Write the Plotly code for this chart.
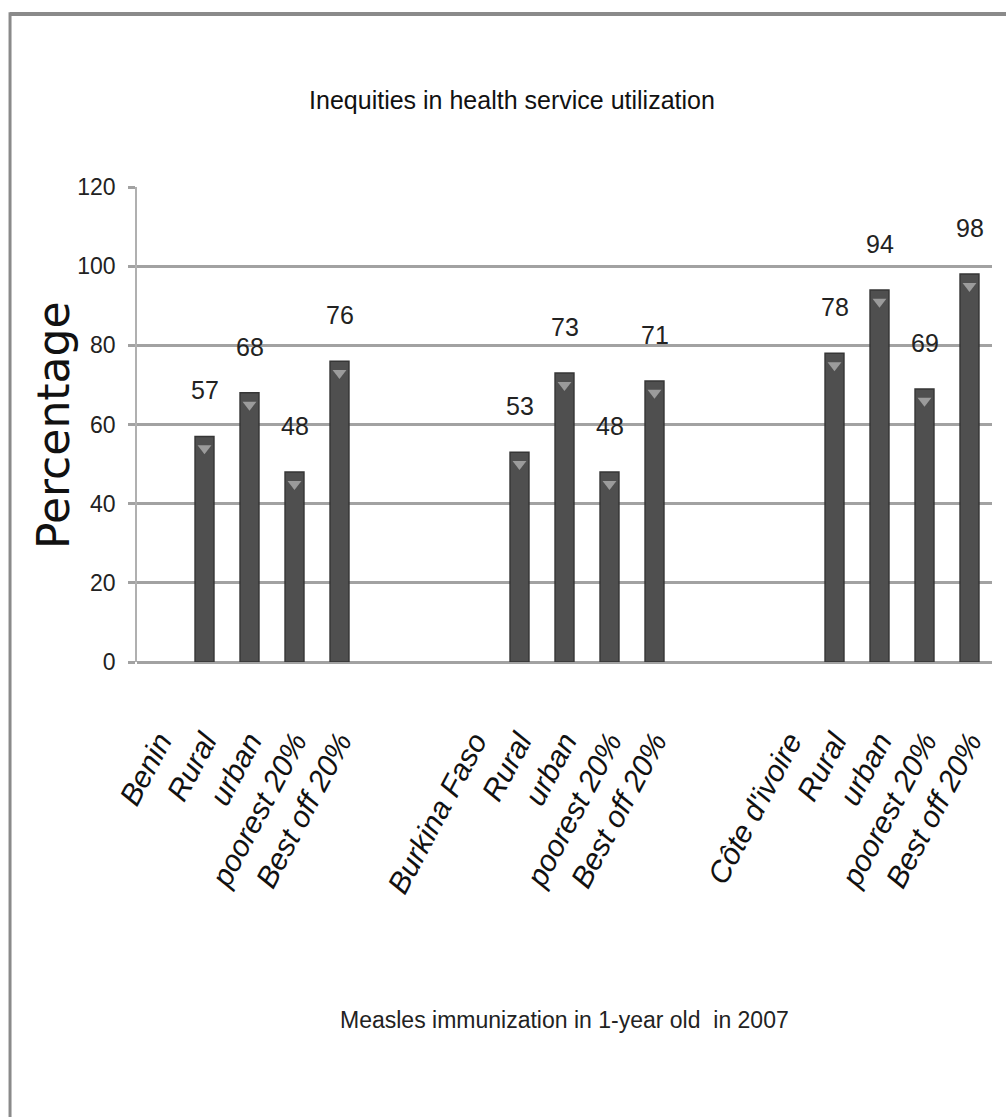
import plotly.graph_objects as go

# Category slots along the x axis (blank slots separate the country groups)
tick_labels = [
    "Benin", "Rural", "urban", "poorest 20%", "Best off 20%", "", "",
    "Burkina Faso", "Rural", "urban", "poorest 20%", "Best off 20%", "", "",
    "Côte d'ivoire", "Rural", "urban", "poorest 20%", "Best off 20%",
]
# Slot index of each bar and its coverage value (%)
bar_slots = [1, 2, 3, 4, 8, 9, 10, 11, 15, 16, 17, 18]
bar_values = [57, 68, 48, 76, 53, 73, 48, 71, 78, 94, 69, 98]

y_ticks = [0, 20, 40, 60, 80, 100, 120]

SANS = "Liberation Sans, Arial, sans-serif"
GRID = "#a2a2a2"

fig = go.Figure()

fig.add_trace(go.Bar(
    x=bar_slots,
    y=bar_values,
    width=0.42,
    marker=dict(color="#4f4f4f", line=dict(color="#363636", width=1.5)),
    hoverinfo="x+y",
    showlegend=False,
))

# small highlight triangle just under each bar top
fig.add_trace(go.Scatter(
    x=bar_slots,
    y=[v - 3 for v in bar_values],
    mode="markers",
    marker=dict(symbol="triangle-down", size=12, color="#9b9b9b", line=dict(width=0)),
    hoverinfo="skip",
    showlegend=False,
))

annotations = []
for s, v in zip(bar_slots, bar_values):
    annotations.append(dict(
        x=s, y=v, xref="x", yref="y", text=str(v), showarrow=False,
        yanchor="bottom", yshift=30,
        font=dict(family=SANS, size=25, color="#222222"),
    ))

# y-axis title
annotations.append(dict(
    x=-0.097, y=0.499, xref="paper", yref="paper", text="Percentage",
    textangle=-90, showarrow=False, xanchor="center", yanchor="middle",
    font=dict(family="DejaVu Sans, Arial, sans-serif", size=44, color="#111111"),
))
# x-axis title
annotations.append(dict(
    x=0.5, y=-0.754, xref="paper", yref="paper",
    text="Measles immunization in 1-year old  in 2007",
    showarrow=False, xanchor="center", yanchor="middle",
    font=dict(family=SANS, size=23, color="#222222"),
))

# chart frame (top and left edges)
shapes = [
    dict(type="line", xref="paper", yref="paper", x0=-0.1485, x1=1.02,
         y0=1.364, y1=1.364, line=dict(color="#8a8a8a", width=4)),
    dict(type="line", xref="paper", yref="paper", x0=-0.1485, x1=-0.1485,
         y0=1.368, y1=-0.96, line=dict(color="#8a8a8a", width=3)),
]

fig.update_layout(
    width=1006,
    height=1117,
    margin=dict(l=137, r=14, t=187, b=455, pad=0),
    paper_bgcolor="white",
    plot_bgcolor="white",
    title=dict(
        text="Inequities in health service utilization",
        x=512 / 1006, xref="container", xanchor="center",
        y=1 - 100 / 1117, yref="container", yanchor="middle",
        font=dict(family=SANS, size=25, color="#111111"),
    ),
    annotations=annotations,
    shapes=shapes,
    bargap=0.58,
)

fig.update_xaxes(
    range=[-0.5, 18.5],
    tickmode="array",
    tickvals=list(range(len(tick_labels))),
    ticktext=tick_labels,
    tickangle=-62,
    ticks="",
    ticklabelstandoff=55,
    tickfont=dict(family=SANS, size=30, color="#111111", style="italic"),
    showgrid=False,
    showline=False,
    zeroline=False,
    automargin=False,
)

fig.update_yaxes(
    range=[0, 120],
    tickmode="array",
    tickvals=y_ticks,
    ticktext=[str(t) for t in y_ticks],
    ticks="outside",
    ticklen=7,
    tickwidth=3,
    tickcolor=GRID,
    ticklabelstandoff=8,
    tickfont=dict(family=SANS, size=23, color="#222222"),
    showgrid=True,
    gridcolor=GRID,
    gridwidth=3,
    zeroline=True,
    zerolinecolor=GRID,
    zerolinewidth=3,
    showline=True,
    linecolor="#b0b0b0",
    linewidth=1.5,
    automargin=False,
)

fig.write_html("out.html")
